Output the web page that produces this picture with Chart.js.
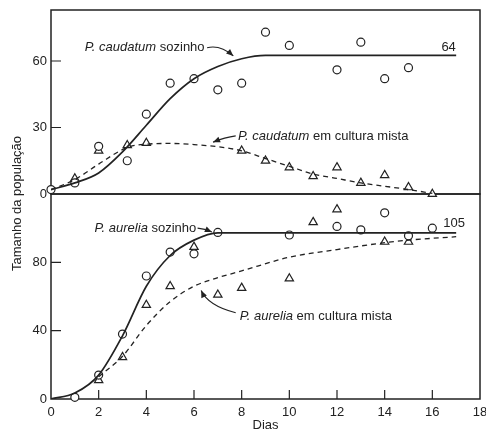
<!DOCTYPE html>
<html><head><meta charset="utf-8">
<script src="https://cdn.jsdelivr.net/npm/chart.js@4/dist/chart.umd.min.js"></script>
<style>html,body{margin:0;padding:0;background:#fff;}#wrap{width:486px;height:432px;}</style>
</head><body><div id="wrap"><canvas id="c" width="486" height="432"></canvas></div>
<script>
// ---- tick labels ----
const dayTicks = [0, 2, 4, 6, 8, 10, 12, 14, 16, 18];
const topTicks = [0, 30, 60];
const bottomTicks = [0, 40, 80];

// ---- P. caudatum (top panel) ----
const caudatumAloneDays   = [0, 1, 2, 3.2, 4, 5, 6, 7, 8, 9, 10, 12, 13, 14, 15];
const caudatumAloneCounts = [2, 5, 21.5, 15, 36, 50, 52, 47, 50, 73, 67, 56, 68.5, 52, 57];
const caudatumMixedDays   = [1, 2, 3.2, 4, 8, 9, 10, 11, 12, 13, 14, 15, 16];
const caudatumMixedCounts = [7, 19.5, 22, 23, 19.5, 15, 12, 8, 12, 5, 8.5, 3, 0];
const caudatumAloneFitDays = [0, 1, 2, 3, 4, 5, 6, 7, 8, 9, 10, 17];
const caudatumAloneFit     = [2, 5, 9.5, 19, 31, 43, 52, 57.5, 61, 62.5, 62.5, 62.5];
const caudatumMixedFitDays = [0, 1, 2, 3.2, 4, 5, 6, 7, 8, 9, 10, 11, 12, 13, 14, 15, 16];
const caudatumMixedFit     = [2, 6.5, 13.5, 21, 22.5, 22.8, 22.3, 21.3, 19.5, 16, 12.5, 9, 7, 5, 3.5, 2, 0.3];

// ---- P. aurelia (bottom panel) ----
const aureliaAloneDays   = [1, 2, 3, 4, 5, 6, 7, 10, 12, 13, 14, 15, 16];
const aureliaAloneCounts = [1, 14, 38, 72, 86, 85, 97.5, 96, 101, 99, 109, 95.5, 100];
const aureliaMixedDays   = [2, 3, 4, 5, 6, 7, 8, 10, 11, 12, 14, 15];
const aureliaMixedCounts = [11, 24.5, 55, 66, 89, 61, 65, 70.5, 103.5, 111, 92, 92];
const aureliaAloneFitDays = [0, 1, 2, 3, 4, 5, 6, 7, 8, 17];
const aureliaAloneFit     = [0, 3.5, 14, 37, 66, 84, 93, 97.3, 97.3, 97.3];
const aureliaMixedFitDays = [2, 3, 4, 5, 6, 7, 8, 10, 12, 14, 15, 17];
const aureliaMixedFit     = [13, 25, 43, 57, 66, 71, 75, 83, 87.5, 91.5, 93, 95];

const FONT = '"Liberation Sans", Arial, Helvetica, sans-serif';
const INK = '#222';

function pts(xs, ys) { return xs.map((x, i) => ({ x: x, y: ys[i] })); }

// annotation labels (placed in data coordinates)
const notes = [
  { axis: 'yTop', x: 1.42, y: 66, italic: 'P. caudatum', plain: ' sozinho',
    arrow: [[6.55, 66], [7.1, 67.5], [7.65, 62.3]] },
  { axis: 'yTop', x: 7.85, y: 26.1, italic: 'P. caudatum', plain: ' em cultura mista',
    arrow: [[7.75, 26.2], [7.3, 25.6], [6.8, 23.4]] },
  { axis: 'yTop', x: 16.38, y: 66.3, italic: '', plain: '64' },
  { axis: 'yBot', x: 1.83, y: 100, italic: 'P. aurelia', plain: ' sozinho',
    arrow: [[6.15, 100], [6.45, 99.6], [6.75, 97.8]] },
  { axis: 'yBot', x: 7.92, y: 48.4, italic: 'P. aurelia', plain: ' em cultura mista',
    arrow: [[7.75, 50.5], [6.6, 54.5], [6.3, 63.5]] },
  { axis: 'yBot', x: 16.46, y: 102.5, italic: '', plain: '105' }
];

const decor = {
  id: 'decor',
  beforeDatasetsDraw(chart) {
    const { ctx, scales } = chart;
    const x = scales.x, yT = scales.yTop, yB = scales.yBot;
    ctx.save();
    ctx.strokeStyle = INK;
    ctx.lineWidth = 1.5;
    ctx.strokeRect(x.left, yT.top, x.right - x.left, yT.bottom - yT.top);
    ctx.strokeRect(x.left, yB.top, x.right - x.left, yB.bottom - yB.top);
    ctx.lineWidth = 1.2;
    ctx.beginPath();
    dayTicks.forEach(v => {
      if (v > x.min && v < x.max) {
        const px = x.getPixelForValue(v);
        ctx.moveTo(px, yB.bottom); ctx.lineTo(px, yB.bottom - 9);
      }
    });
    topTicks.forEach(v => {
      if (v > 0) { const py = yT.getPixelForValue(v); ctx.moveTo(x.left, py); ctx.lineTo(x.left + 10, py); }
    });
    bottomTicks.forEach(v => {
      if (v > 0) { const py = yB.getPixelForValue(v); ctx.moveTo(x.left, py); ctx.lineTo(x.left + 10, py); }
    });
    ctx.stroke();
    ctx.restore();
  },
  afterDraw(chart) {
    const { ctx, scales } = chart;
    const x = scales.x;
    ctx.save();
    ctx.fillStyle = INK;
    ctx.strokeStyle = INK;
    ctx.textBaseline = 'middle';
    notes.forEach(n => {
      const ys = scales[n.axis];
      let px = x.getPixelForValue(n.x);
      const py = ys.getPixelForValue(n.y);
      if (n.italic) {
        ctx.font = 'italic 13px ' + FONT;
        ctx.fillText(n.italic, px, py);
        px += ctx.measureText(n.italic).width;
      }
      ctx.font = '13px ' + FONT;
      ctx.fillText(n.plain, px, py);
      if (n.arrow) {
        const p = n.arrow.map(a => [x.getPixelForValue(a[0]), ys.getPixelForValue(a[1])]);
        ctx.lineWidth = 1.1;
        ctx.beginPath();
        ctx.moveTo(p[0][0], p[0][1]);
        ctx.quadraticCurveTo(p[1][0], p[1][1], p[2][0], p[2][1]);
        ctx.stroke();
        const ang = Math.atan2(p[2][1] - p[1][1], p[2][0] - p[1][0]);
        const L = 7, W = 3;
        ctx.beginPath();
        ctx.moveTo(p[2][0], p[2][1]);
        ctx.lineTo(p[2][0] - L * Math.cos(ang) + W * Math.sin(ang), p[2][1] - L * Math.sin(ang) - W * Math.cos(ang));
        ctx.lineTo(p[2][0] - L * Math.cos(ang) - W * Math.sin(ang), p[2][1] - L * Math.sin(ang) + W * Math.cos(ang));
        ctx.closePath();
        ctx.fill();
      }
    });
    // y-axis title spanning both panels
    ctx.font = '13px ' + FONT;
    ctx.textAlign = 'center';
    ctx.translate(17, (scales.yTop.top + scales.yBot.bottom) / 2 - 1);
    ctx.rotate(-Math.PI / 2);
    ctx.fillText('Tamanho da população', 0, 0);
    ctx.restore();
  }
};

const pointStyleCommon = { showLine: false, borderColor: INK, backgroundColor: '#fff', borderWidth: 1.2, clip: false };
const lineCommon = { showLine: true, borderColor: INK, pointRadius: 0, cubicInterpolationMode: 'monotone', fill: false };

function fixTicks(list) {
  return function (s) { s.ticks = list.map(v => ({ value: v })); };
}

const tickFont = { family: FONT, size: 13 };

new Chart(document.getElementById('c'), {
  type: 'scatter',
  data: {
    datasets: [
      Object.assign({ label: 'P. caudatum sozinho (curva)', data: pts(caudatumAloneFitDays, caudatumAloneFit), yAxisID: 'yTop', borderWidth: 1.7 }, lineCommon),
      Object.assign({ label: 'P. caudatum em cultura mista (curva)', data: pts(caudatumMixedFitDays, caudatumMixedFit), yAxisID: 'yTop', borderWidth: 1.3, borderDash: [5, 4] }, lineCommon),
      Object.assign({ label: 'P. aurelia sozinho (curva)', data: pts(aureliaAloneFitDays, aureliaAloneFit), yAxisID: 'yBot', borderWidth: 1.7 }, lineCommon),
      Object.assign({ label: 'P. aurelia em cultura mista (curva)', data: pts(aureliaMixedFitDays, aureliaMixedFit), yAxisID: 'yBot', borderWidth: 1.3, borderDash: [5, 4] }, lineCommon),
      Object.assign({ label: 'P. caudatum sozinho', data: pts(caudatumAloneDays, caudatumAloneCounts), yAxisID: 'yTop', pointStyle: 'circle', pointRadius: 4 }, pointStyleCommon),
      Object.assign({ label: 'P. caudatum em cultura mista', data: pts(caudatumMixedDays, caudatumMixedCounts), yAxisID: 'yTop', pointStyle: 'triangle', pointRadius: 4.8 }, pointStyleCommon),
      Object.assign({ label: 'P. aurelia sozinho', data: pts(aureliaAloneDays, aureliaAloneCounts), yAxisID: 'yBot', pointStyle: 'circle', pointRadius: 4 }, pointStyleCommon),
      Object.assign({ label: 'P. aurelia em cultura mista', data: pts(aureliaMixedDays, aureliaMixedCounts), yAxisID: 'yBot', pointStyle: 'triangle', pointRadius: 4.8 }, pointStyleCommon)
    ]
  },
  options: {
    responsive: false,
    devicePixelRatio: 1,
    animation: false,
    events: [],
    layout: { padding: { top: 10, right: 2, left: 0, bottom: 0 } },
    plugins: { legend: { display: false }, tooltip: { enabled: false } },
    scales: {
      x: {
        type: 'linear', position: 'bottom', min: 0, max: 18,
        afterBuildTicks: fixTicks(dayTicks),
        ticks: { color: INK, font: tickFont, padding: 6, maxRotation: 0, autoSkip: false },
        grid: { display: false, drawTicks: false },
        border: { display: false },
        title: { display: true, text: 'Dias', color: INK, font: { family: FONT, size: 13, lineHeight: 1 }, padding: { top: 0, bottom: 0 } },
        afterFit(s) { s.height = 33; s.paddingLeft = 0; s.paddingRight = 0; }
      },
      yBot: {
        type: 'linear', position: 'left', stack: 'panels', stackWeight: 205, min: 0, max: 120,
        afterBuildTicks: fixTicks(bottomTicks),
        ticks: { color: INK, font: tickFont, padding: 4 },
        grid: { display: false, drawTicks: false },
        border: { display: false },
        afterFit(s) { s.width = 51; s.paddingTop = 0; s.paddingBottom = 0; }
      },
      yTop: {
        type: 'linear', position: 'left', stack: 'panels', stackWeight: 184, min: 0, max: 83,
        afterBuildTicks: fixTicks(topTicks),
        ticks: { color: INK, font: tickFont, padding: 4 },
        grid: { display: false, drawTicks: false },
        border: { display: false },
        afterFit(s) { s.width = 51; s.paddingTop = 0; s.paddingBottom = 0; }
      }
    }
  },
  plugins: [decor]
});
</script>
</body></html>
